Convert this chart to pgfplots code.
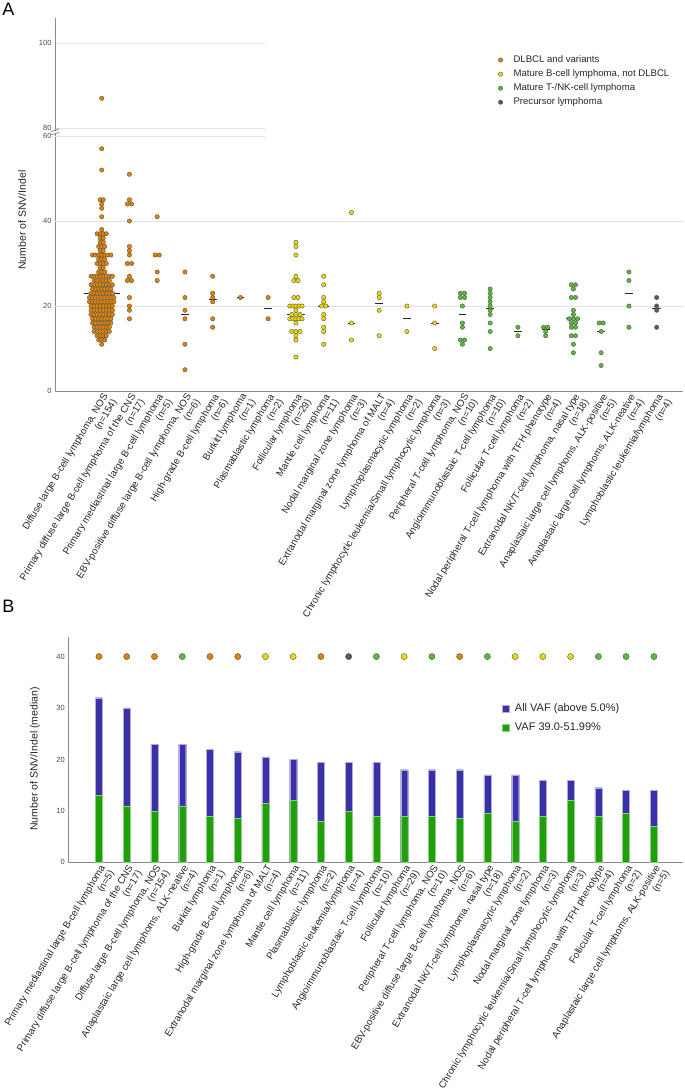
\documentclass[border=0pt]{standalone}
\usepackage{fontspec}
\setmainfont{Liberation Sans}
\usepackage{pgfplots}
\pgfplotsset{compat=1.18}
\definecolor{cOr}{HTML}{E08200}
\definecolor{cYe}{HTML}{E8D900}
\definecolor{cGr}{HTML}{5CB83A}
\definecolor{cGy}{HTML}{525A5A}
\definecolor{bBlue}{HTML}{3A30A8}
\definecolor{bGreen}{HTML}{1FA00B}
\definecolor{axgray}{HTML}{8A8A8A}
\definecolor{gridc}{HTML}{E2E2E2}
\definecolor{labc}{HTML}{262626}
\definecolor{tickc}{HTML}{4A4A4A}
\pgfplotsset{
  base/.style={scale only axis, anchor=south west,
    axis x line*=bottom, axis y line*=left,
    axis line style={-, draw=axgray, line width=0.9pt},
    major tick length=0pt,
    /pgf/number format/assume math mode=true,
    yticklabel style={font=\fontsize{7.5}{8}\selectfont, text=tickc},
    xticklabel style={rotate=59, anchor=north east, align=right, inner sep=1pt,
      font=\fontsize{9.8}{10.4}\selectfont, text=labc},
  },
  dots/.style={only marks, mark=*, mark size=2.2pt,
    mark options={draw=black!70, line width=0.35pt, fill=#1}},
}
\begin{document}
\begin{tikzpicture}
\useasboundingbox (0pt,0pt) rectangle (685pt,-1090pt);
% ---------------- Panel A, lower part ----------------
\begin{axis}[base, at={(55pt,-391pt)}, width=628pt, height=257.1pt,
  xmin=-1.683, xmax=20.95, ymin=0, ymax=60.5,
  ytick={0,20,40,60}, xtick={0,...,20},
  xticklabels={
    {Diffuse large B-cell lymphoma, NOS\\(n=154)},
    {Primary diffuse large B-cell lymphoma of the CNS\\(n=17)},
    {Primary mediastinal large B-cell lymphoma\\(n=5)},
    {EBV-positive diffuse large B-cell lymphoma, NOS\\(n=6)},
    {High-grade B-cell lymphoma\\(n=6)},
    {Burkitt lymphoma\\(n=1)},
    {Plasmablastic lymphoma\\(n=2)},
    {Follicular lymphoma\\(n=29)},
    {Mantle cell lymphoma\\(n=11)},
    {Nodal marginal zone lymphoma\\(n=3)},
    {Extranodal marginal zone lymphoma of MALT\\(n=4)},
    {Lymphoplasmacytic lymphoma\\(n=2)},
    {Chronic lymphocytic leukemia/Small lymphocytic lymphoma\\(n=3)},
    {Peripheral T-cell lymphoma, NOS\\(n=10)},
    {Angioimmunoblastaic T-cell lymphoma\\(n=10)},
    {Follicular T-cell lymphoma\\(n=2)},
    {Nodal peripheral T-cell lymphoma with TFH phenotype\\(n=4)},
    {Extranodal NK/T-cell lymphoma, nasal type\\(n=18)},
    {Anaplastaic large cell lymphoms, ALK-positive\\(n=5)},
    {Anaplastaic large cell lymphoms, ALK-neative\\(n=4)},
    {Lymphoblastic leukemia/lymphoma\\(n=4)}},
  legend style={at={(axis description cs:0.698,1.32)}, anchor=north west,
    draw=none, fill=none, font=\fontsize{9.6}{11}\selectfont, text=labc,
    row sep=1.6pt, legend cell align=left},
  legend image code/.code={\path[draw=none, fill=none] (0pt,0pt) -- (15pt,0pt); \draw[#1] plot coordinates {(4pt,0pt)};},
]
% grid lines
\addplot[gridc, line width=0.8pt, forget plot] coordinates {(-1.683,20)(20.95,20)};
\addplot[gridc, line width=0.8pt, forget plot] coordinates {(-1.683,40)(20.95,40)};
\addplot[gridc, line width=0.8pt, forget plot] coordinates {(-1.683,60)(5.88,60)};
% DLBCL and variants
\addplot[dots=cOr] coordinates {
 (0,57)(0,52)(-0.055,45)(0.055,45)(0,44)(0,43)(0,41)(0,38)
 (-0.165,37)(-0.055,37)(0.055,37)(0.165,37)
 (-0.055,36)(0.055,36)(-0.055,35)(0.055,35)
 (-0.11,34)(0,34)(0.11,34)(-0.055,33)(0.055,33)
 (-0.33,32)(-0.22,32)(-0.11,32)(0,32)(0.11,32)(0.22,32)(0.33,32)
 (-0.11,31)(0,31)(0.11,31)
 (-0.165,30)(-0.055,30)(0.055,30)(0.165,30)
 (-0.055,29)(0.055,29)(-0.11,28)(0,28)(0.11,28)
 (-0.385,27)(-0.275,27)(-0.165,27)(-0.055,27)(0.055,27)(0.165,27)(0.275,27)(0.385,27)
 (-0.275,26)(-0.165,26)(-0.055,26)(0.055,26)(0.165,26)(0.275,26)
 (-0.385,25)(-0.275,25)(-0.165,25)(-0.055,25)(0.055,25)(0.165,25)(0.275,25)(0.385,25)
 (-0.33,24)(-0.22,24)(-0.11,24)(0,24)(0.11,24)(0.22,24)(0.33,24)
 (-0.385,23)(-0.275,23)(-0.165,23)(-0.055,23)(0.055,23)(0.165,23)(0.275,23)(0.385,23)
 (-0.44,22)(-0.33,22)(-0.22,22)(-0.11,22)(0,22)(0.11,22)(0.22,22)(0.33,22)(0.44,22)
 (-0.44,21)(-0.33,21)(-0.22,21)(-0.11,21)(0,21)(0.11,21)(0.22,21)(0.33,21)(0.44,21)
 (-0.385,20)(-0.275,20)(-0.165,20)(-0.055,20)(0.055,20)(0.165,20)(0.275,20)(0.385,20)
 (-0.385,19)(-0.275,19)(-0.165,19)(-0.055,19)(0.055,19)(0.165,19)(0.275,19)(0.385,19)
 (-0.385,18)(-0.275,18)(-0.165,18)(-0.055,18)(0.055,18)(0.165,18)(0.275,18)(0.385,18)
 (-0.33,17)(-0.22,17)(-0.11,17)(0,17)(0.11,17)(0.22,17)(0.33,17)
 (-0.33,16)(-0.22,16)(-0.11,16)(0,16)(0.11,16)(0.22,16)(0.33,16)
 (-0.275,15)(-0.165,15)(-0.055,15)(0.055,15)(0.165,15)(0.275,15)
 (-0.275,14)(-0.165,14)(-0.055,14)(0.055,14)(0.165,14)(0.275,14)
 (-0.165,13)(-0.055,13)(0.055,13)(0.165,13)
 (-0.11,12)(0,12)(0.11,12)(0,11)
 (1,51)(1,45)(0.925,44)(1.075,44)(1,40)(1,34)(1,33)(1,32)(0.925,30)(1.075,30)
 (1,27)(0.925,26)(1.075,26)(1,22)(1,20)(1,19)(1,17)
 (2,41)(1.925,32)(2.075,32)(2,28)(2,26)
 (3,28)(3,22)(3,19)(3,17)(3,11)(3,5)
 (4,27)(4,23)(4,22)(4,21)(4,17)(4,15)
 (5,22)
 (6,22)(6,17)
};
\addlegendentry{DLBCL and variants}
% Mature B-cell lymphoma, not DLBCL
\addplot[dots=cYe] coordinates {
 (7,35)(7,34)(7,32)(7,27)(6.925,26)(7.075,26)(6.925,22)(7.075,22)
 (6.78,20)(6.89,20)(7,20)(7.11,20)(7.22,20)(7,19)
 (6.85,18)(7,18)(7.15,18)
 (6.78,17)(6.89,17)(7,17)(7.11,17)(7.22,17)
 (7,16)(6.85,14)(7,14)(7.15,14)(7,13)(7,12)(7,8)
 (8,27)(8,25)(8,22)(8,21)(7.925,20)(8.075,20)(8,18)(8,17)(8,15)(8,14)(8,11)
 (9,42)(9,16)(9,12)
 (10,23)(10,22)(10,19)(10,13)
 (11,20)(11,14)
 (12,20)(12,16)(12,10)
};
\addlegendentry{Mature B-cell lymphoma, not DLBCL}
% Mature T-/NK-cell lymphoma
\addplot[dots=cGr] coordinates {
 (12.925,23)(13.075,23)(12.925,22)(13.075,22)(13,20)(13,16)(13,15)(12.925,12)(13.075,12)(13,11)
 (14,24)(14,23)(14,22)(14,21)(14,20)(14,19)(14,18)(14,16)(14,14)(14,10)
 (15,15)(15,13)
 (15.925,15)(16.075,15)(16,14)(16,13)
 (16.925,25)(17.075,25)(17,24)(16.925,22)(17.075,22)(17,19)(17,18)
 (16.85,17)(17,17)(17.15,17)(16.925,16)(17.075,16)(16.925,15)(17.075,15)
 (16.925,13)(17.075,13)(17,11)(17,9)
 (17.925,16)(18.075,16)(18,14)(18,9)(18,6)
 (19,28)(19,26)(19,20)(19,15)
};
\addlegendentry{Mature T-/NK-cell lymphoma}
% Precursor lymphoma
\addplot[dots=cGy] coordinates {(20,22)(20,20)(20,19)(20,15)};
\addlegendentry{Precursor lymphoma}
% medians
\addplot[black!85, line width=0.8pt, unbounded coords=jump, forget plot] coordinates {
 (-0.65,23)(0.65,23)(0,nan)
 (0.85,30)(1.15,30)(1,nan)
 (1.85,32)(2.15,32)(2,nan)
 (2.86,18)(3.14,18)(3,nan)
 (3.86,21.5)(4.14,21.5)(4,nan)
 (4.88,22)(5.12,22)(5,nan)
 (5.86,19.5)(6.14,19.5)(6,nan)
 (6.68,18)(7.32,18)(7,nan)
 (7.81,20)(8.19,20)(8,nan)
 (8.86,16)(9.14,16)(9,nan)
 (9.86,20.5)(10.14,20.5)(10,nan)
 (10.86,17)(11.14,17)(11,nan)
 (11.86,16)(12.14,16)(12,nan)
 (12.87,18)(13.13,18)(13,nan)
 (13.85,19.5)(14.15,19.5)(14,nan)
 (14.86,14)(15.14,14)(15,nan)
 (15.86,14.5)(16.14,14.5)(16,nan)
 (16.75,17)(17.25,17)(17,nan)
 (17.86,14)(18.14,14)(18,nan)
 (18.86,23)(19.14,23)(19,nan)
 (19.85,19.5)(20.15,19.5)
};
\end{axis}
% ---------------- Panel A, upper part ----------------
\begin{axis}[base, at={(55pt,-130.55pt)}, width=209.9pt, height=113.05pt,
  xmin=-1.683, xmax=5.88, ymin=79.4, ymax=106,
  axis x line=none, ytick={80,100}, xtick=\empty,
  ymajorgrids, grid style={gridc, line width=0.8pt},
]
\addplot[dots=cOr] coordinates {(0,87)};
\end{axis}
\draw[axgray, line width=0.8pt] (51pt,-135pt)--(59pt,-132.4pt);
\draw[axgray, line width=0.8pt] (51pt,-131.6pt)--(59pt,-129pt);
\node[font=\fontsize{10.5}{12}\selectfont, text=labc, rotate=90] at (22pt,-220pt) {Number of SNV/Indel};
\node[font=\fontsize{18}{20}\selectfont, text=black] at (8.5pt,-9pt) {A};
\node[font=\fontsize{18}{20}\selectfont, text=black] at (8.5pt,-606pt) {B};
\node[font=\fontsize{10.5}{12}\selectfont, text=labc, rotate=90] at (35pt,-759pt) {Number of SNV/Indel (median)};
% ---------------- Panel B ----------------
\begin{axis}[base, at={(68.3pt,-862.3pt)}, width=614.7pt, height=225.3pt,
  xmin=-1.106, xmax=21.05, ymin=0, ymax=43.8,
  ytick={0,10,20,30,40}, xtick={0,...,20},
  xticklabels={
    {Primary mediastinal large B-cell lymphoma\\(n=5)},
    {Primary diffuse large B-cell lymphoma of the CNS\\(n=17)},
    {Diffuse large B-cell lymphoma, NOS\\(n=154)},
    {Anaplastaic large cell lymphoms, ALK-neative\\(n=4)},
    {Burkitt lymphoma\\(n=1)},
    {High-grade B-cell lymphoma\\(n=6)},
    {Extranodal marginal zone lymphoma of MALT\\(n=4)},
    {Mantle cell lymphoma\\(n=11)},
    {Plasmablastic lymphoma\\(n=2)},
    {Lymphoblastic leukemia/lymphoma\\(n=4)},
    {Angioimmunoblastaic T-cell lymphoma\\(n=10)},
    {Follicular lymphoma\\(n=29)},
    {Peripheral T-cell lymphoma, NOS\\(n=10)},
    {EBV-positive diffuse large B-cell lymphoma, NOS\\(n=6)},
    {Extranodal NK/T-cell lymphoma, nasal type\\(n=18)},
    {Lymphoplasmacytic lymphoma\\(n=2)},
    {Nodal marginal zone lymphoma\\(n=3)},
    {Chronic lymphocytic leukemia/Small lymphocytic lymphoma\\(n=3)},
    {Nodal peripheral T-cell lymphoma with TFH phenotype\\(n=4)},
    {Follicular T-cell lymphoma\\(n=2)},
    {Anaplastaic large cell lymphoms, ALK-positive\\(n=5)}},
  legend style={at={(axis description cs:0.70,0.7215)}, anchor=north west,
    draw=none, fill=none, font=\fontsize{11}{12.5}\selectfont, text=labc,
    row sep=5.5pt, legend cell align=left},
  legend image code/.code={\path[draw=none, fill=none] (0pt,0pt) -- (11pt,0pt); \fill[#1] (0pt,-3.5pt) rectangle (7pt,3.5pt);},
]
\addplot[ybar, bar width=7pt, bar shift=0pt, fill=bBlue, draw=bBlue!40, line width=0.3pt]
 coordinates {(0,32)(1,30)(2,23)(3,23)(4,22)(5,21.5)(6,20.5)(7,20)(8,19.5)(9,19.5)
 (10,19.5)(11,18)(12,18)(13,18)(14,17)(15,17)(16,16)(17,16)(18,14.5)(19,14)(20,14)};
\addlegendentry{All VAF (above 5.0\%)}
\addplot[ybar, bar width=7pt, bar shift=0pt, fill=bGreen, draw=bGreen!50, line width=0.3pt]
 coordinates {(0,13)(1,11)(2,10)(3,11)(4,9)(5,8.5)(6,11.5)(7,12)(8,8)(9,10)
 (10,9)(11,9)(12,9)(13,8.5)(14,9.5)(15,8)(16,9)(17,12)(18,9)(19,9.5)(20,7)};
\addlegendentry{VAF 39.0-51.99\%}
\addplot[dots=cOr, mark size=3.1pt, forget plot] coordinates {(0,40)(1,40)(2,40)(4,40)(5,40)(8,40)(13,40)};
\addplot[dots=cYe, mark size=3.1pt, forget plot] coordinates {(6,40)(7,40)(11,40)(15,40)(16,40)(17,40)};
\addplot[dots=cGr, mark size=3.1pt, forget plot] coordinates {(3,40)(10,40)(12,40)(14,40)(18,40)(19,40)(20,40)};
\addplot[dots=cGy, mark size=3.1pt, forget plot] coordinates {(9,40)};
\end{axis}
\end{tikzpicture}
\end{document}
